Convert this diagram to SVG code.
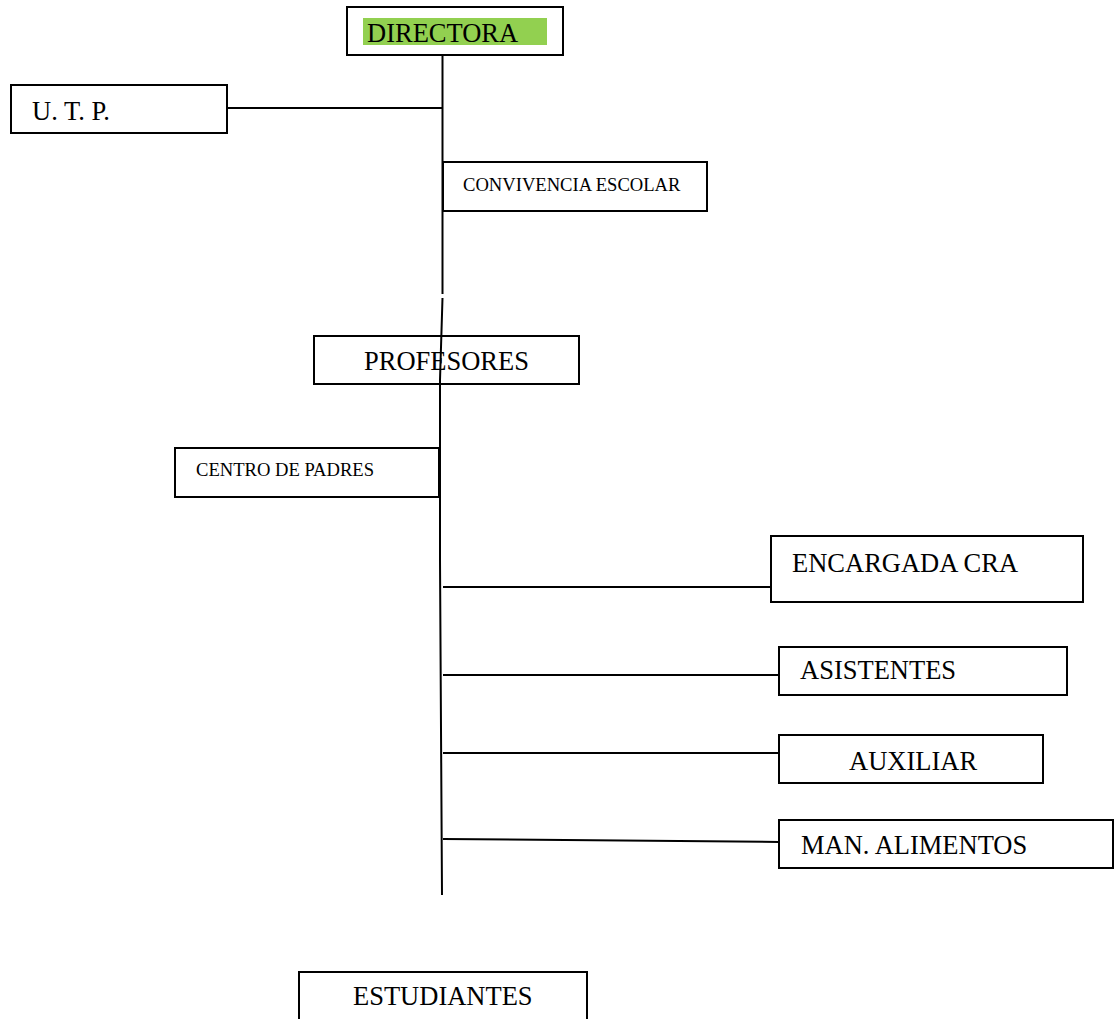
<svg xmlns="http://www.w3.org/2000/svg" width="1117" height="1019" viewBox="0 0 1117 1019">
<style>
.box{fill:#fff;stroke:#000;stroke-width:2}
.t{font-family:"Liberation Serif","Times New Roman",serif;fill:#000}
.big{font-size:26.5px}
.sm{font-size:18.6px}
.c{stroke:#000;stroke-width:2;fill:none}
</style>
<rect width="1117" height="1019" fill="#fff"/>
<g id="connectors">
<line class="c" x1="442.5" y1="55" x2="442.5" y2="294"/>
<line class="c" x1="227" y1="108" x2="442.5" y2="108"/>
<polyline class="c" points="442.5,298 440,380 440,497 440,560 442,895"/>
<line class="c" x1="443" y1="587" x2="771" y2="587"/>
<line class="c" x1="443" y1="675" x2="779" y2="675"/>
<line class="c" x1="443" y1="753" x2="779" y2="753"/>
<line class="c" x1="443" y1="839" x2="779" y2="842"/>
</g>
<g id="directora">
<rect class="box" x="347" y="7" width="216" height="48"/>
<rect x="363" y="18" width="184" height="27" fill="#92D050"/>
<text class="t big" x="367" y="42">DIRECTORA</text>
</g>
<g id="utp">
<rect class="box" x="11" y="85" width="216" height="48"/>
<text class="t big" x="32" y="120">U. T. P.</text>
</g>
<g id="convivencia">
<rect class="box" x="443" y="162" width="264" height="49"/>
<text class="t sm" x="463" y="191">CONVIVENCIA ESCOLAR</text>
</g>
<g id="profesores">
<rect class="box" x="314" y="336" width="265" height="48" style="fill:none"/>
<text class="t big" x="364" y="370">PROFESORES</text>
</g>
<g id="centro-padres">
<rect class="box" x="175" y="448" width="264" height="49"/>
<text class="t sm" x="196" y="476">CENTRO DE PADRES</text>
</g>
<g id="encargada-cra">
<rect class="box" x="771" y="536" width="312" height="66"/>
<text class="t big" x="792" y="572">ENCARGADA CRA</text>
</g>
<g id="asistentes">
<rect class="box" x="779" y="647" width="288" height="48"/>
<text class="t big" x="800" y="679">ASISTENTES</text>
</g>
<g id="auxiliar">
<rect class="box" x="779" y="735" width="264" height="48"/>
<text class="t big" x="849" y="770">AUXILIAR</text>
</g>
<g id="man-alimentos">
<rect class="box" x="779" y="820" width="334" height="48"/>
<text class="t big" x="801" y="854">MAN. ALIMENTOS</text>
</g>
<g id="estudiantes">
<rect class="box" x="299" y="972" width="288" height="60"/>
<text class="t big" x="353" y="1005">ESTUDIANTES</text>
</g>
</svg>
